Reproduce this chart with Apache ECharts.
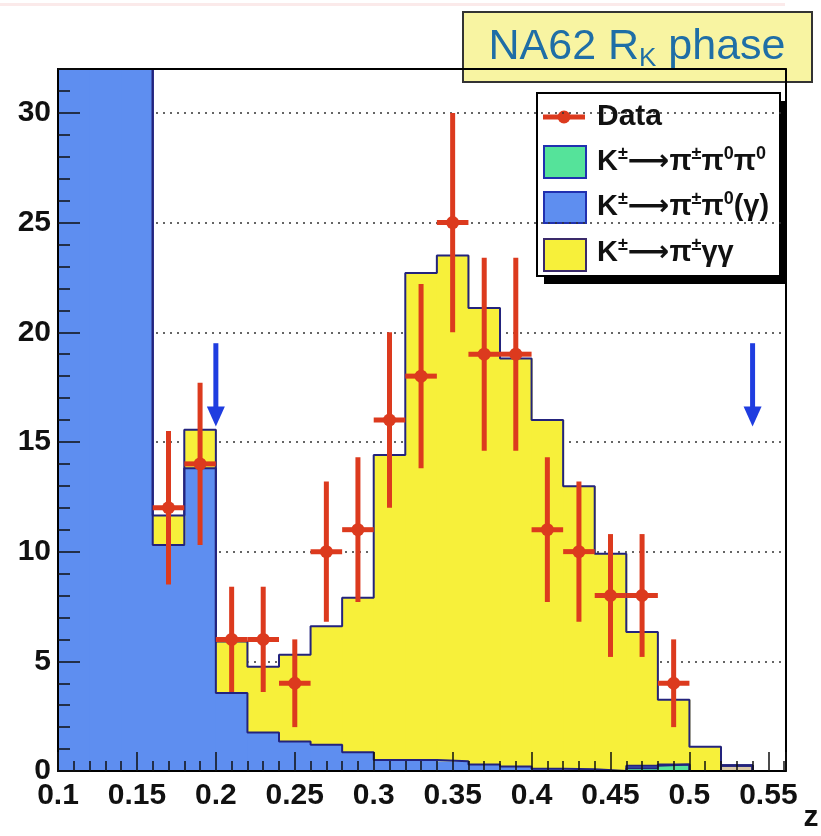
<!DOCTYPE html>
<html><head><meta charset="utf-8">
<script src="https://cdn.jsdelivr.net/npm/echarts@6/dist/echarts.min.js"></script>
<style>html,body{margin:0;padding:0;background:#fff}#c{width:821px;height:836px}</style>
</head><body><div id="c"></div>
<script>
// ---- data ----
const binLow = [0.10,0.12,0.14,0.16,0.18,0.20,0.22,0.24,0.26,0.28,0.30,0.32,0.34,0.36,0.38,0.40,0.42,0.44,0.46,0.48,0.50,0.52,0.54];
const binWidth = 0.02;
const otherBkg = [0,0,0,0,0,0,0,0,0,0,0,0,0,0,0,0,0,0,0,0,0,0.25,0];
const k3pi  = [0,0,0,0,0,0,0,0,0,0,0,0,0,0,0,0,0,0,0.12,0.3,0,0,0];
const k2pi  = [40,40,40,10.3,13.8,3.55,1.75,1.35,1.2,0.85,0.5,0.5,0.45,0.3,0.2,0.1,0.08,0,0.12,0,0,0,0];
const kpigg = [0,0,0,1.35,1.75,2.35,3.0,3.95,5.4,7.05,13.9,22.2,23.05,20.8,18.6,15.9,12.9,9.9,6.1,2.95,1.1,0,0];
const dataZ   = [0.17,0.19,0.21,0.23,0.25,0.27,0.29,0.31,0.33,0.35,0.37,0.39,0.41,0.43,0.45,0.47,0.49];
const dataN   = [12,14,6,6,4,10,11,16,18,25,19,19,11,10,8,8,4];
const dataErr = [3.5,3.7,2.4,2.4,2.0,3.2,3.3,4.0,4.2,5.0,4.4,4.4,3.3,3.2,2.8,2.8,2.0];
const dataHalfWidth = 0.01;
const arrowZ   = [0.20, 0.54];
const arrowTop = [19.5, 19.5];
const arrowTip = [15.7, 15.7];
const xTickLabels = ['0.1','0.15','0.2','0.25','0.3','0.35','0.4','0.45','0.5','0.55'];
const yTickLabels = ['0','5','10','15','20','25','30'];

// ---- styling ----
const FONT = "'Liberation Sans', Arial, Helvetica, sans-serif";
const C_BLUE = '#5e8ef0', C_YEL = '#f7f03a', C_GRN = '#55e39a', C_TAN = '#d9c9a6';
const C_LINE = '#23237d', C_RED = '#dc3a1e', C_ARROW = '#1f3de0';

// ---- stacking ----
const comps = [
  {name:'other', vals: otherBkg, color: C_TAN},
  {name:'K±→π±π0π0', vals: k3pi, color: C_GRN},
  {name:'K±→π±π0(γ)', vals: k2pi, color: C_BLUE},
  {name:'K±→π±γγ', vals: kpigg, color: C_YEL}
];
let prev = binLow.map(() => 0);
comps.forEach(c => {
  c.base = prev.slice();
  c.cum = prev.map((p, i) => p + c.vals[i]);
  prev = c.cum;
});

function fillRender(color) {
  return function (params, api) {
    const x0 = api.value(0), x1 = api.value(1), b = api.value(2), t = api.value(3);
    if (!(t > b)) return;
    const p0 = api.coord([x0, b]), p1 = api.coord([x1, t]);
    const cs = params.coordSys;
    const r = echarts.graphic.clipRectByRect(
      {x: p0[0], y: p1[1], width: p1[0] - p0[0] + 1, height: p0[1] - p1[1]},
      {x: cs.x, y: cs.y, width: cs.width, height: cs.height});
    if (!r) return;
    return {type: 'rect', shape: r, style: {fill: color}};
  };
}

const series = [];
comps.forEach((c, ci) => {
  series.push({
    type: 'custom', name: c.name, xAxisIndex: 0, yAxisIndex: 0, z: 2 + ci * 0.01,
    renderItem: fillRender(c.color),
    encode: {x: [0, 1], y: [2, 3]},
    data: binLow.map((x, i) => [x, x + binWidth, c.base[i], c.cum[i]]),
    silent: true
  });
});
comps.forEach((c, ci) => {
  const n = binLow.length;
  const pts = [[binLow[0], 0]];
  for (let i = 0; i < n; i++) pts.push([binLow[i], c.cum[i]]);
  pts.push([binLow[n - 1] + binWidth, c.cum[n - 1]]);
  pts.push([binLow[n - 1] + binWidth, 0]);
  series.push({
    type: 'line', step: 'end', xAxisIndex: 0, yAxisIndex: 0, z: 3 + ci * 0.01,
    symbol: 'none', data: pts, silent: true,
    lineStyle: {color: C_LINE, width: 2}
  });
});
// cut arrows
series.push({
  type: 'custom', z: 5, xAxisIndex: 0, yAxisIndex: 0, silent: true,
  encode: {x: 0, y: [1, 2]},
  data: arrowZ.map((z, i) => [z, arrowTop[i], arrowTip[i]]),
  renderItem: function (params, api) {
    const a = api.coord([api.value(0), api.value(1)]);
    const b = api.coord([api.value(0), api.value(2)]);
    const hh = 20, hw = 9;
    return {type: 'group', children: [
      {type: 'line', shape: {x1: a[0], y1: a[1], x2: b[0], y2: b[1] - hh + 2}, style: {stroke: C_ARROW, lineWidth: 5}},
      {type: 'polygon', shape: {points: [[b[0] - hw, b[1] - hh], [b[0] + hw, b[1] - hh], [b[0], b[1]]]}, style: {fill: C_ARROW}}
    ]};
  }
});
// data points with error bars
series.push({
  type: 'custom', name: 'Data', z: 6, xAxisIndex: 0, yAxisIndex: 0, silent: true,
  encode: {x: 0, y: 1},
  data: dataZ.map((z, i) => [z, dataN[i], dataErr[i], dataHalfWidth]),
  renderItem: function (params, api) {
    const x = api.value(0), y = api.value(1), e = api.value(2), hw = api.value(3);
    const c = api.coord([x, y]);
    const t = api.coord([x, y + e]), b = api.coord([x, y - e]);
    const l = api.coord([x - hw, y]), r = api.coord([x + hw, y]);
    return {type: 'group', children: [
      {type: 'line', shape: {x1: c[0], y1: t[1], x2: c[0], y2: b[1]}, style: {stroke: C_RED, lineWidth: 5}},
      {type: 'line', shape: {x1: l[0], y1: c[1], x2: r[0], y2: c[1]}, style: {stroke: C_RED, lineWidth: 5}},
      {type: 'circle', shape: {cx: c[0], cy: c[1], r: 6.5}, style: {fill: C_RED}}
    ]};
  }
});

const X_MIN = 0.1, X_MAX = 0.561, Y_MIN = 0, Y_MAX = 32;
function frameLine() { return {show: true, onZero: false, lineStyle: {color: '#000', width: 2}}; }
function xFmt(v) {
  const s = String(Math.round(v * 1000) / 1000);
  return xTickLabels.indexOf(s) >= 0 ? s : '';
}
function yFmt(v) {
  const s = String(Math.round(v));
  return (Math.abs(v - Math.round(v)) < 1e-9 && yTickLabels.indexOf(s) >= 0) ? s : '';
}

const option = {
  backgroundColor: '#fff',
  animation: false,
  grid: {left: 58, right: 16, top: 69, bottom: 65, show: false},
  xAxis: [
    {type: 'value', position: 'bottom', min: X_MIN, max: X_MAX, interval: 0.05, z: 10,
     axisLine: frameLine(),
     axisTick: {show: true, inside: true, length: 19, lineStyle: {color: '#111', width: 1.5}},
     minorTick: {show: true, splitNumber: 5, length: 10, lineStyle: {color: '#111', width: 1.5}},
     axisLabel: {formatter: xFmt, color: '#111', fontFamily: FONT, fontWeight: 'bold', fontSize: 30, margin: 10, showMaxLabel: false},
     splitLine: {show: false},
     name: 'z', nameLocation: 'end', nameGap: 7,
     nameTextStyle: {fontFamily: FONT, fontWeight: 'bold', fontSize: 30, color: '#111', align: 'center', verticalAlign: 'top', padding: [32, 0, 0, 0]}
    },
    {type: 'value', position: 'top', min: X_MIN, max: X_MAX, z: 10,
     axisLine: frameLine(), axisTick: {show: false}, axisLabel: {show: false}, splitLine: {show: false}}
  ],
  yAxis: [
    {type: 'value', position: 'left', min: Y_MIN, max: Y_MAX, interval: 5, z: 0,
     axisLine: {show: false}, axisTick: {show: false}, axisLabel: {show: false},
     splitLine: {show: true, lineStyle: {color: '#333', width: 1.5, type: [2, 5]}}},
    {type: 'value', position: 'left', min: Y_MIN, max: Y_MAX, interval: 5, z: 10,
     axisLine: frameLine(),
     axisTick: {show: true, inside: false, length: -22, lineStyle: {color: '#111', width: 1.5}},
     minorTick: {show: true, splitNumber: 5, length: -12, lineStyle: {color: '#111', width: 1.5}},
     axisLabel: {formatter: yFmt, color: '#111', fontFamily: FONT, fontWeight: 'bold', fontSize: 30, margin: 7, showMaxLabel: false},
     splitLine: {show: false}},
    {type: 'value', position: 'right', min: Y_MIN, max: Y_MAX, z: 10,
     axisLine: frameLine(), axisTick: {show: false}, axisLabel: {show: false}, splitLine: {show: false}}
  ],
  series: series,
  graphic: [
    {type: 'rect', z: 100, shape: {x: 0, y: 3, width: 785, height: 3}, style: {fill: '#fbeaea'}},
    // title box
    {type: 'group', z: 100, children: [
      {type: 'rect', shape: {x: 463, y: 12, width: 349, height: 70}, style: {fill: '#f8f4a2', stroke: '#333', lineWidth: 2}},
      {type: 'text', x: 637, y: 47, style: {
        text: '{a|NA62 R}{b|K}{a| phase}', align: 'center', verticalAlign: 'middle',
        rich: {
          a: {fontFamily: FONT, fontSize: 43, fill: '#1f6ea6', lineHeight: 50},
          b: {fontFamily: FONT, fontSize: 26, fill: '#1f6ea6', verticalAlign: 'bottom'}
        }}}
    ]},
    // legend
    {type: 'group', z: 100, children: [
      {type: 'rect', shape: {x: 544, y: 101, width: 243, height: 183}, style: {fill: '#000'}},
      {type: 'rect', shape: {x: 537, y: 93, width: 243, height: 183}, style: {fill: '#fff', stroke: '#000', lineWidth: 2}},
      {type: 'line', shape: {x1: 543, y1: 117, x2: 585, y2: 117}, style: {stroke: C_RED, lineWidth: 5}},
      {type: 'circle', shape: {cx: 564, cy: 117, r: 6.5}, style: {fill: C_RED}},
      {type: 'rect', shape: {x: 544, y: 146, width: 42, height: 32}, style: {fill: C_GRN, stroke: '#2030b0', lineWidth: 2}},
      {type: 'rect', shape: {x: 544, y: 192, width: 42, height: 31}, style: {fill: C_BLUE, stroke: '#2030b0', lineWidth: 2}},
      {type: 'rect', shape: {x: 544, y: 239, width: 42, height: 32}, style: {fill: C_YEL, stroke: '#3a2a6a', lineWidth: 2}},
      {type: 'text', x: 597, y: 117, style: {text: 'Data', fontFamily: FONT, fontWeight: 'bold', fontSize: 30, fill: '#111', verticalAlign: 'middle'}},
      {type: 'text', x: 597, y: 162, style: legendRich('{m|K}{s|±}{m|⟶π}{s|±}{m|π}{s|0}{m|π}{s|0}')},
      {type: 'text', x: 597, y: 207, style: legendRich('{m|K}{s|±}{m|⟶π}{s|±}{m|π}{s|0}{m|(γ)}')},
      {type: 'text', x: 597, y: 253, style: legendRich('{m|K}{s|±}{m|⟶π}{s|±}{m|γγ}')}
    ]}
  ]
};
function legendRich(t) {
  return {text: t, verticalAlign: 'middle', rich: {
    m: {fontFamily: FONT + ", 'DejaVu Sans'", fontWeight: 'bold', fontSize: 29, fill: '#111', lineHeight: 34},
    s: {fontFamily: FONT, fontWeight: 'bold', fontSize: 18, fill: '#111', verticalAlign: 'top'}
  }};
}
const chart = echarts.init(document.getElementById('c'), null, {renderer: 'canvas'});
chart.setOption(option);
</script></body></html>
